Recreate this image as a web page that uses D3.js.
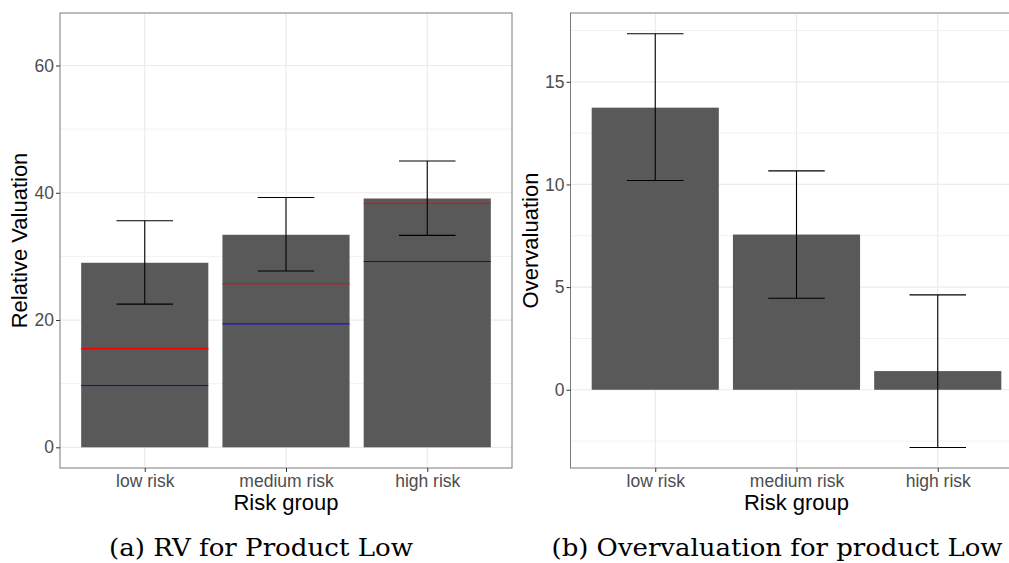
<!DOCTYPE html>
<html><head><meta charset="utf-8">
<script src="https://cdn.jsdelivr.net/npm/d3@7"></script>
<style>body{margin:0;background:#fff}svg{display:block}</style>
</head><body>
<svg id="c" width="1009" height="563"></svg>
<script>
const categories = ["low risk", "medium risk", "high risk"];
// Panel (a): Relative valuation
const rvMeans = [29.0, 33.4, 39.1];
const rvLower = [22.5, 27.7, 33.3];
const rvUpper = [35.6, 39.25, 45.0];
const rvRed = [15.5, 25.7, 38.35];
const rvBlue = [9.7, 19.4, 29.2];
const rvTicks = [0, 20, 40, 60];
// Panel (b): Overvaluation
const ovMeans = [13.74, 7.56, 0.91];
const ovLower = [10.19, 4.46, -2.81];
const ovUpper = [17.34, 10.66, 4.62];
const ovTicks = [0, 5, 10, 15];
const captions = ["(a) RV for Product Low", "(b) Overvaluation for product Low"];

const SANS = "'Liberation Sans', Arial, Helvetica, sans-serif";
const svg = d3.select("#c");

function panel(opt) {
  const {x0, x1, y0, y1, domain, ticks, minor, means, lower, upper, red, blue, ylab, caption, capX, capW} = opt;
  const g = svg.append("g");
  const clipId = "clip" + Math.round(x0);
  svg.append("clipPath").attr("id", clipId).append("rect")
    .attr("x", x0).attr("y", y0).attr("width", x1 - x0).attr("height", y1 - y0);
  const x = d3.scalePoint().domain(categories).range([x0, x1]).padding(0.6);
  const step = x.step();
  const y = d3.scaleLinear().domain(domain).range([y1, y0]);
  const pg = g.append("g").attr("clip-path", `url(#${clipId})`);
  pg.selectAll(".mn").data(minor).join("line")
    .attr("x1", x0).attr("x2", x1).attr("y1", d => y(d)).attr("y2", d => y(d))
    .attr("stroke", "#f2f2f2").attr("stroke-width", 1);
  pg.selectAll(".mj").data(ticks).join("line")
    .attr("x1", x0).attr("x2", x1).attr("y1", d => y(d)).attr("y2", d => y(d))
    .attr("stroke", "#ebebeb").attr("stroke-width", 1.2);
  pg.selectAll(".vx").data(categories).join("line")
    .attr("x1", d => x(d)).attr("x2", d => x(d)).attr("y1", y0).attr("y2", y1)
    .attr("stroke", "#ebebeb").attr("stroke-width", 1.2);
  const bw = step * 0.9;
  pg.selectAll(".bar").data(means).join("rect")
    .attr("x", (d, i) => x(categories[i]) - bw / 2)
    .attr("width", bw)
    .attr("y", d => Math.min(y(d), y(0)))
    .attr("height", d => Math.abs(y(0) - y(d)))
    .attr("fill", "#595959");
  if (red) {
    pg.selectAll(".red").data(red).join("line")
      .attr("x1", (d, i) => x(categories[i]) - bw / 2).attr("x2", (d, i) => x(categories[i]) + bw / 2)
      .attr("y1", d => y(d)).attr("y2", d => y(d))
      .attr("stroke", "#ff0000").attr("stroke-width", (d, i) => i === 0 ? 2 : 1);
    pg.selectAll(".blue").data(blue).join("line")
      .attr("x1", (d, i) => x(categories[i]) - bw / 2).attr("x2", (d, i) => x(categories[i]) + bw / 2)
      .attr("y1", d => y(d)).attr("y2", d => y(d))
      .attr("stroke", "#0000ff").attr("stroke-width", 1);
  }
  const ew = step * 0.2;
  const eb = pg.selectAll(".eb").data(means).join("g");
  eb.append("line").attr("x1", (d, i) => x(categories[i])).attr("x2", (d, i) => x(categories[i]))
    .attr("y1", (d, i) => y(lower[i])).attr("y2", (d, i) => y(upper[i]));
  eb.append("line").attr("x1", (d, i) => x(categories[i]) - ew).attr("x2", (d, i) => x(categories[i]) + ew)
    .attr("y1", (d, i) => y(lower[i])).attr("y2", (d, i) => y(lower[i]));
  eb.append("line").attr("x1", (d, i) => x(categories[i]) - ew).attr("x2", (d, i) => x(categories[i]) + ew)
    .attr("y1", (d, i) => y(upper[i])).attr("y2", (d, i) => y(upper[i]));
  eb.selectAll("line").attr("stroke", "#000").attr("stroke-width", 1.1);
  g.append("rect").attr("x", x0).attr("y", y0).attr("width", x1 - x0).attr("height", y1 - y0)
    .attr("fill", "none").attr("stroke", "#7a7a7a").attr("stroke-width", 1);
  const ya = g.append("g").attr("transform", `translate(${x0},0)`)
    .call(d3.axisLeft(y).tickValues(ticks).tickSize(4).tickPadding(2).tickFormat(d3.format("d")));
  ya.select(".domain").remove();
  ya.selectAll(".tick line").attr("stroke", "#333");
  ya.selectAll("text").attr("fill", "#4d4d4d").style("font-family", SANS).style("font-size", "17.5px");
  const xa = g.append("g").attr("transform", `translate(0,${y1})`)
    .call(d3.axisBottom(x).tickSize(4).tickPadding(3));
  xa.select(".domain").remove();
  xa.selectAll(".tick line").attr("stroke", "#333");
  xa.selectAll("text").attr("fill", "#4d4d4d").style("font-family", SANS).style("font-size", "17.5px");
  g.append("text").attr("transform", `translate(${x0 - 33},${(y0 + y1) / 2}) rotate(-90)`)
    .attr("text-anchor", "middle")
    .style("font-family", SANS).style("font-size", "22px").attr("fill", "#000")
    .text(ylab);
  g.append("text").attr("x", (x0 + x1) / 2).attr("y", 510)
    .attr("text-anchor", "middle")
    .style("font-family", SANS).style("font-size", "22px").attr("fill", "#000")
    .text("Risk group");
  g.append("text").attr("x", capX - capW / 2).attr("y", 556)
    .attr("textLength", capW).attr("lengthAdjust", "spacingAndGlyphs")
    .style("font-family", "'DejaVu Serif', serif").style("font-size", "24.5px").attr("fill", "#000")
    .text(caption);
}

panel({x0: 60, x1: 512, y0: 13, y1: 468, domain: [-3.25, 68.25], ticks: rvTicks, minor: [10, 30, 50],
  means: rvMeans, lower: rvLower, upper: rvUpper, red: rvRed, blue: rvBlue,
  ylab: "Relative Valuation", caption: captions[0], capX: 261, capW: 304});
panel({x0: 570.5, x1: 1022.5, y0: 13, y1: 468, domain: [-3.81, 18.35], ticks: ovTicks, minor: [-2.5, 2.5, 7.5, 12.5, 17.5],
  means: ovMeans, lower: ovLower, upper: ovUpper, red: null, blue: null,
  ylab: "Overvaluation", caption: captions[1], capX: 777, capW: 451});
</script>
</body></html>
